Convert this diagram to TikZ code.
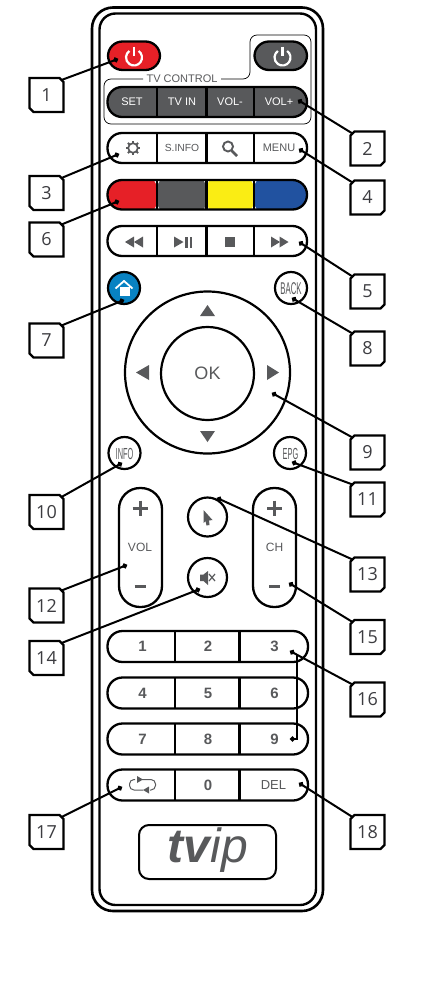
\documentclass[tikz,border=0pt]{standalone}
\usepackage{fontspec}
\usetikzlibrary{arrows.meta,shapes.misc}
\setmainfont{Liberation Sans}
\newfontfamily\labfont{Open Sans}
\definecolor{keygray}{RGB}{88,89,91}
\definecolor{keyred}{RGB}{230,32,39}
\definecolor{keyyellow}{RGB}{250,237,20}
\definecolor{keyblue}{RGB}{33,82,160}
\definecolor{homeblue}{RGB}{8,130,194}
\definecolor{labink}{RGB}{60,60,64}
\newcommand{\pxfont}[1]{\fontsize{#1}{#1}\selectfont}

\begin{document}
\begin{tikzpicture}[x=1pt,y=-1pt,
 keyrow/.style={draw=black,line width=2.3pt,rounded corners=14.5pt},
 split/.style={draw=black,line width=2.2pt},
 roundkey/.style={draw=black,fill=white,line width=2.2pt},
 keytext/.style={text=keygray,inner sep=0pt,font=\pxfont{11}},
 numtext/.style={text=keygray,inner sep=0pt,font=\pxfont{15}\bfseries},
 thinkey/.style={text=keygray,inner sep=0pt,font=\pxfont{17},xscale=.46,transform shape},
 icon/.style={draw=keygray,line width=1.6pt},
 glyph/.style={fill=keygray},
 lab/.style={chamfered rectangle,chamfered rectangle xsep=2pt,chamfered rectangle ysep=2pt,draw=black,fill=white,line width=2.2pt,minimum width=34pt,minimum height=34pt,inner sep=0pt,outer sep=0pt,text=labink,font=\labfont\pxfont{18}},
 leftlab/.style={lab,chamfered rectangle corners={north east,south west}},
 rightlab/.style={lab,chamfered rectangle corners={north west,south east}},
 lead/.style={-{Circle[length=5pt]},line width=2pt}]
\useasboundingbox (0,0) rectangle (422,996);

% Housing
\draw[line width=2.6pt,rounded corners=21pt] (92,7.5) rectangle (323,911);
\draw[line width=2.4pt,rounded corners=16pt] (99.5,13.5) rectangle (316,905);

% Power keys and the TV group
\draw[line width=2.3pt,fill=keyred,rounded corners=14.5pt] (108,41.5) rectangle (160,70);
\draw[line width=2.3pt,fill=keygray,rounded corners=14.5pt] (254.5,41.5) rectangle (307,70);
\foreach \xx in {134,282.5}{
 \draw[white,line width=2.2pt] ([shift={(-55:8)}]\xx,57.5) arc[start angle=-55,end angle=235,radius=8];
 \draw[white,line width=2.2pt] (\xx,46.5)--(\xx,56);
}
\draw[line width=.7pt,rounded corners=7pt] (221,79)--(250,79)--(250,35)--(311,35)--(311,124)--(104,124)--(104,79)--(143,79);
\node[keytext] (tvcontrol) at (182,79) {TV CONTROL};

% Four-part rows
\foreach \yy/\tint in {87/keygray,133/white,226/white}{
 \draw[keyrow,fill=\tint] (107.5,\yy) rectangle ++(199.5,30);
 \foreach \xx in {157,206.5,254}{
  \draw[split] (\xx,\yy)--++(0,30);
 }
}
\draw[keyrow,path picture={
 \fill[keyred] (100,175) rectangle (157,215);
 \fill[keygray] (157,175) rectangle (206.5,215);
 \fill[keyyellow] (206.5,175) rectangle (254,215);
 \fill[keyblue] (254,175) rectangle (315,215);
}] (107.5,180) rectangle (307,209.5);
\foreach \xx in {157,206.5,254}{
 \draw[split] (\xx,180)--++(0,29.5);
}
\foreach \nm/\xx/\txt in {set/132/SET,tvin/182/TV IN,voldn/230/VOL-,volup/279/VOL+}{
 \node[keytext,text=white] (\nm) at (\xx,102) {\txt};
}
\node[keytext,font=\pxfont{10.3}] (sinfo) at (182,148) {S.INFO};
\node[keytext] (menu) at (279,147.5) {MENU};

% Settings and search icons
\draw[icon,line width=1.7pt] (133,148) circle (4.8);
\foreach \ang in {0,45,...,315}{
 \draw[icon,line width=2pt] ([shift={(\ang:4.8)}]133,148)--([shift={(\ang:7.2)}]133,148);
}
\draw[icon,line width=1.9pt] (228,146.5) circle (5);
\draw[icon,line width=2.6pt] (231.5,150.5)--(237,156);

% Transport icons
\foreach \xx in {125,134}{
 \fill[glyph] (\xx,242)--++(9,-5.5)--++(0,11)--cycle;
}
\fill[glyph] (174,236.5)--(183.5,242)--(174,247.5)--cycle;
\fill[glyph] (185,236.5) rectangle (187.5,247.5);
\fill[glyph] (189.5,236.5) rectangle (192,247.5);
\fill[glyph] (225,236.5) rectangle (235,247);
\foreach \xx in {271,279.5}{
 \fill[glyph] (\xx,236.5)--++(9,5.5)--++(-9,5.5)--cycle;
}

% Home and back
\draw[roundkey,fill=homeblue] (124,288) circle (16);
\fill[white] (119.5,287) rectangle (130,296);
\draw[white,line width=1.8pt] (115.5,288.5)--(124,281)--(132.5,288.5);
\draw[roundkey] (291,288) circle (16);
\node[thinkey] (back) at (291,288.5) {BACK};

% Direction ring
\draw[roundkey] (207.5,372.5) ellipse (82.5 and 81);
\draw[roundkey] (207.5,373.5) circle (46.5);
\node[text=keygray,inner sep=0pt,font=\pxfont{18}] (ok) at (207.5,373) {OK};
\fill[glyph] (207.5,305)--(215,316)--(200,316)--cycle;
\fill[glyph] (207.5,442)--(215,431)--(200,431)--cycle;
\fill[glyph] (136,372.5)--(149,365)--(149,380)--cycle;
\fill[glyph] (279,372.5)--(267,365)--(267,380)--cycle;

\draw[roundkey] (124.5,453) circle (16);
\node[thinkey,font=\pxfont{16}] (info) at (124.5,453.5) {INFO};
\draw[roundkey] (290,453) circle (16);
\node[thinkey,font=\pxfont{16}] (epg) at (290.5,454) {EPG};

% Volume and channel
\foreach \xx/\cx/\txt/\nm in {119/140/VOL/vol,253/274.5/CH/ch}{
 \draw[line width=2.3pt,rounded corners=21pt] (\xx,488) rectangle ++(43,119);
 \node[keytext,font=\pxfont{12}] (\nm) at (\cx,547.5) {\txt};
 \draw[icon,line width=3pt] (\cx-7.5,508)--(\cx+7.5,508);
 \draw[icon,line width=3pt] (\cx,500.5)--(\cx,515.5);
 \draw[icon,line width=3pt] (\cx-5.5,586)--(\cx+5.5,586);
}
\draw[roundkey] (207.5,517) circle (19.5);
\fill[glyph] (203.5,510)--(212.5,520)--(209,520.5)--(209.5,525)--(206.5,525.5)--(205.5,521)--(203.5,523)--cycle;
\draw[roundkey] (207.5,577.5) circle (19.5);
\fill[glyph] (200,574.5)--(203.5,574.5)--(208,571)--(208,585)--(203.5,581)--(200,581)--cycle;
\draw[icon,line width=1.2pt] (209,574)--(215,581) (215,574)--(209,581);

% Number rows
\foreach \yy in {631,677.5,723.5,769.5}{
 \draw[keyrow,rounded corners=15pt] (107.5,\yy) rectangle ++(200.5,31);
 \foreach \xx in {175,239.5}{
  \draw[split] (\xx,\yy)--++(0,31);
 }
}
\foreach \txt/\xx/\yy in {1/142.5/646.5,2/208/646.5,3/274.5/646.5,4/142.5/693.5,5/208/693.5,6/274.5/693.5,7/142.5/739,8/208/739,9/274.5/739,0/208/785}{
 \node[numtext] (num\txt) at (\xx,\yy) {\txt};
}
\node[keytext,font=\pxfont{13}] (del) at (273.5,785) {DEL};
\draw[icon,line width=1pt,rounded corners=4.5pt] (135,779.5)--(129.5,779.5)--(129.5,790)--(143,790) (150,790)--(155.5,790)--(155.5,779.5)--(142,779.5);
\fill[glyph] (143,779.5)--(137,776)--(137,783)--cycle;
\fill[glyph] (143,790)--(149,786.5)--(149,793.5)--cycle;

% Logo plate
\draw[line width=2pt,rounded corners=10pt] (139,825) rectangle (276,879);
\node[text=keygray,inner sep=0pt,font=\pxfont{48}\itshape] (logo) at (208,850) {{\bfseries tv}ip};

% Callouts
\foreach \num/\yy in {1/95,3/193,6/239.5,7/340.5,10/512,12/605.5,14/658,17/832}{
 \node[leftlab] (lab\num) at (46.5,\yy) {\num};
}
\foreach \num/\yy in {2/148.5,4/197.5,5/291.5,8/348.5,9/452.5,11/499.5,13/574.5,15/637,16/699.5,18/832}{
 \node[rightlab] (lab\num) at (367.5,\yy) {\num};
}
\foreach \num/\xx/\yy in {1/118/59,3/119/154,6/119/201,7/124/300,10/122/463,12/127/565,14/200/589,17/122/787}{
 \coordinate (dot\num) at (\xx,\yy);
 \draw[lead] (lab\num.north east)--(dot\num);
}
\foreach \num/\xx/\yy in {2/298/100,4/299/149,5/299/242,8/292/298,9/272/393,11/292/462,13/217/498,15/289/583,16/290/651,18/299/783}{
 \coordinate (dot\num) at (\xx,\yy);
 \draw[lead] (lab\num.north west)--(dot\num);
}
\coordinate (dotnine) at (290,739);
\coordinate (joint) at (297,655);
\draw[lead] (joint)|-(dotnine);
\end{tikzpicture}
\end{document}
